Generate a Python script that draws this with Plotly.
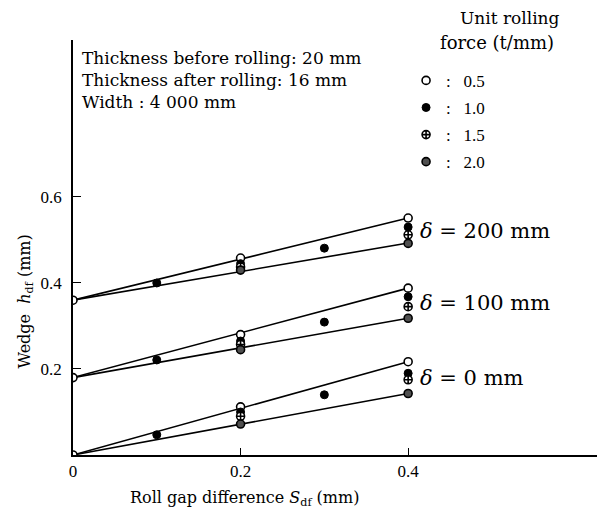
"""Wedge vs roll gap difference for three crown offsets and four unit rolling forces."""

import plotly.graph_objects as go

FONT = "Liberation Serif"
SERIF_LARGO = "DejaVu Serif"
TINTA = "black"

# fit lines: start (gap 0) and end (gap 0.4) for delta = 0, 100, 200 mm
DELTAS = [0, 100, 200]
LINE_START = [0.0, 0.18, 0.36]
LINE_UPPER_END = [0.217, 0.388, 0.551]
LINE_LOWER_END = [0.143, 0.318, 0.493]

# measured points, unit rolling force 0.5 t/mm
GAP_05 = [0.0, 0.2, 0.4]
WEDGE_05_D0 = [0.0, 0.112, 0.217]
WEDGE_05_D100 = [0.18, 0.28, 0.388]
WEDGE_05_D200 = [0.36, 0.458, 0.551]

# 1.0 t/mm
GAP_10 = [0.1, 0.2, 0.3, 0.4]
WEDGE_10_D0 = [0.047, 0.10, 0.14, 0.19]
WEDGE_10_D100 = [0.221, 0.265, 0.309, 0.368]
WEDGE_10_D200 = [0.40, 0.445, 0.481, 0.530]

# 1.5 t/mm
GAP_15 = [0.2, 0.4]
WEDGE_15_D0 = [0.09, 0.175]
WEDGE_15_D100 = [0.257, 0.345]
WEDGE_15_D200 = [0.437, 0.512]

# 2.0 t/mm
GAP_20 = [0.2, 0.4]
WEDGE_20_D0 = [0.072, 0.143]
WEDGE_20_D100 = [0.245, 0.318]
WEDGE_20_D200 = [0.43, 0.492]

FORCES = ["0.5", "1.0", "1.5", "2.0"]
X_TICKS = [0, 0.2, 0.4]
Y_TICKS = [0.2, 0.4, 0.6]

fig = go.Figure()

for ini, up, lo in zip(LINE_START, LINE_UPPER_END, LINE_LOWER_END):
    for fim in (up, lo):
        fig.add_scatter(x=[0, 0.4], y=[ini, fim], mode="lines",
                        line=dict(color=TINTA, width=1.6), showlegend=False,
                        hoverinfo="skip")

series = [
    (GAP_05, [WEDGE_05_D0, WEDGE_05_D100, WEDGE_05_D200],
     dict(symbol="circle", color="white", line=dict(color=TINTA, width=1.6))),
    (GAP_10, [WEDGE_10_D0, WEDGE_10_D100, WEDGE_10_D200],
     dict(symbol="circle", color=TINTA, line=dict(color=TINTA, width=1))),
    (GAP_15, [WEDGE_15_D0, WEDGE_15_D100, WEDGE_15_D200],
     dict(symbol="circle-cross", color="white", line=dict(color=TINTA, width=1.6))),
    (GAP_20, [WEDGE_20_D0, WEDGE_20_D100, WEDGE_20_D200],
     dict(symbol="circle", color="#505050", line=dict(color=TINTA, width=1.6))),
]

for forca, (gx, grupos, mk) in zip(FORCES, series):
    xs, ys = [], []
    for g in grupos:
        xs += gx
        ys += g
    fig.add_scatter(x=xs, y=ys, mode="markers", name=":\u00a0\u00a0\u00a0" + forca,
                    legendgroup=forca, marker=dict(size=8, **mk))

for d, ini, up, lo in zip(DELTAS, LINE_START, LINE_UPPER_END, LINE_LOWER_END):
    fig.add_annotation(x=0.412, y=(up + lo) / 2, xref="x", yref="y",
                       text=f"<i>δ</i> = {d} mm", showarrow=False,
                       xanchor="left", yanchor="middle",
                       font=dict(family=SERIF_LARGO, size=21))

fig.add_annotation(x=0.013, y=0.985, xref="paper", yref="paper",
                   text=("Thickness before rolling: 20 mm<br>"
                         "Thickness after rolling: 16 mm<br>"
                         "Width : 4 000 mm"),
                   showarrow=False, xanchor="left", yanchor="top", align="left",
                   font=dict(family=SERIF_LARGO, size=17))
fig.add_annotation(x=0.829, y=1.053, xref="paper", yref="paper", text="Unit rolling",
                   showarrow=False, xanchor="center", yanchor="middle",
                   font=dict(family=SERIF_LARGO, size=17))
fig.add_annotation(x=0.805, y=0.993, xref="paper", yref="paper", text="force (t/mm)",
                   showarrow=False, xanchor="center", yanchor="middle",
                   font=dict(family=SERIF_LARGO, size=18))
fig.add_annotation(x=-0.091, y=0.37, xref="paper", yref="paper",
                   text="Wedge  <i>h</i><sub>df</sub> (mm)", textangle=-90,
                   showarrow=False, xanchor="center", yanchor="middle",
                   font=dict(family=SERIF_LARGO, size=16))
fig.add_annotation(x=0.326, y=-0.104, xref="paper", yref="paper",
                   text="Roll gap difference <i>S</i><sub>df</sub> (mm)",
                   showarrow=False, xanchor="center", yanchor="middle",
                   font=dict(family=SERIF_LARGO, size=16))

# the page adds an 8 px body margin, so the figure is drawn 8 px smaller
fig.update_layout(
    width=597, height=512,
    margin=dict(l=65, r=5, t=32, b=65),
    paper_bgcolor="white", plot_bgcolor="white",
    font=dict(family=FONT, size=17, color=TINTA),
    legend=dict(x=0.632, y=0.945, xanchor="left", yanchor="top",
                bgcolor="rgba(0,0,0,0)", tracegroupgap=2, itemwidth=30,
                font=dict(size=17)),
    xaxis=dict(range=[0, 0.629], showgrid=False, zeroline=False, showline=True,
               linecolor=TINTA, linewidth=1.5, ticks="inside", ticklen=7,
               tickcolor=TINTA, tickvals=X_TICKS, ticktext=["0", "0.2", "0.4"]),
    yaxis=dict(range=[0, 0.965], showgrid=False, zeroline=False, showline=True,
               linecolor=TINTA, linewidth=1.5, ticks="inside", ticklen=8,
               tickcolor=TINTA, tickvals=Y_TICKS, ticktext=["0.2", "0.4", "0.6"],
               ticklabelstandoff=6),
)

fig.write_html("out.html")
